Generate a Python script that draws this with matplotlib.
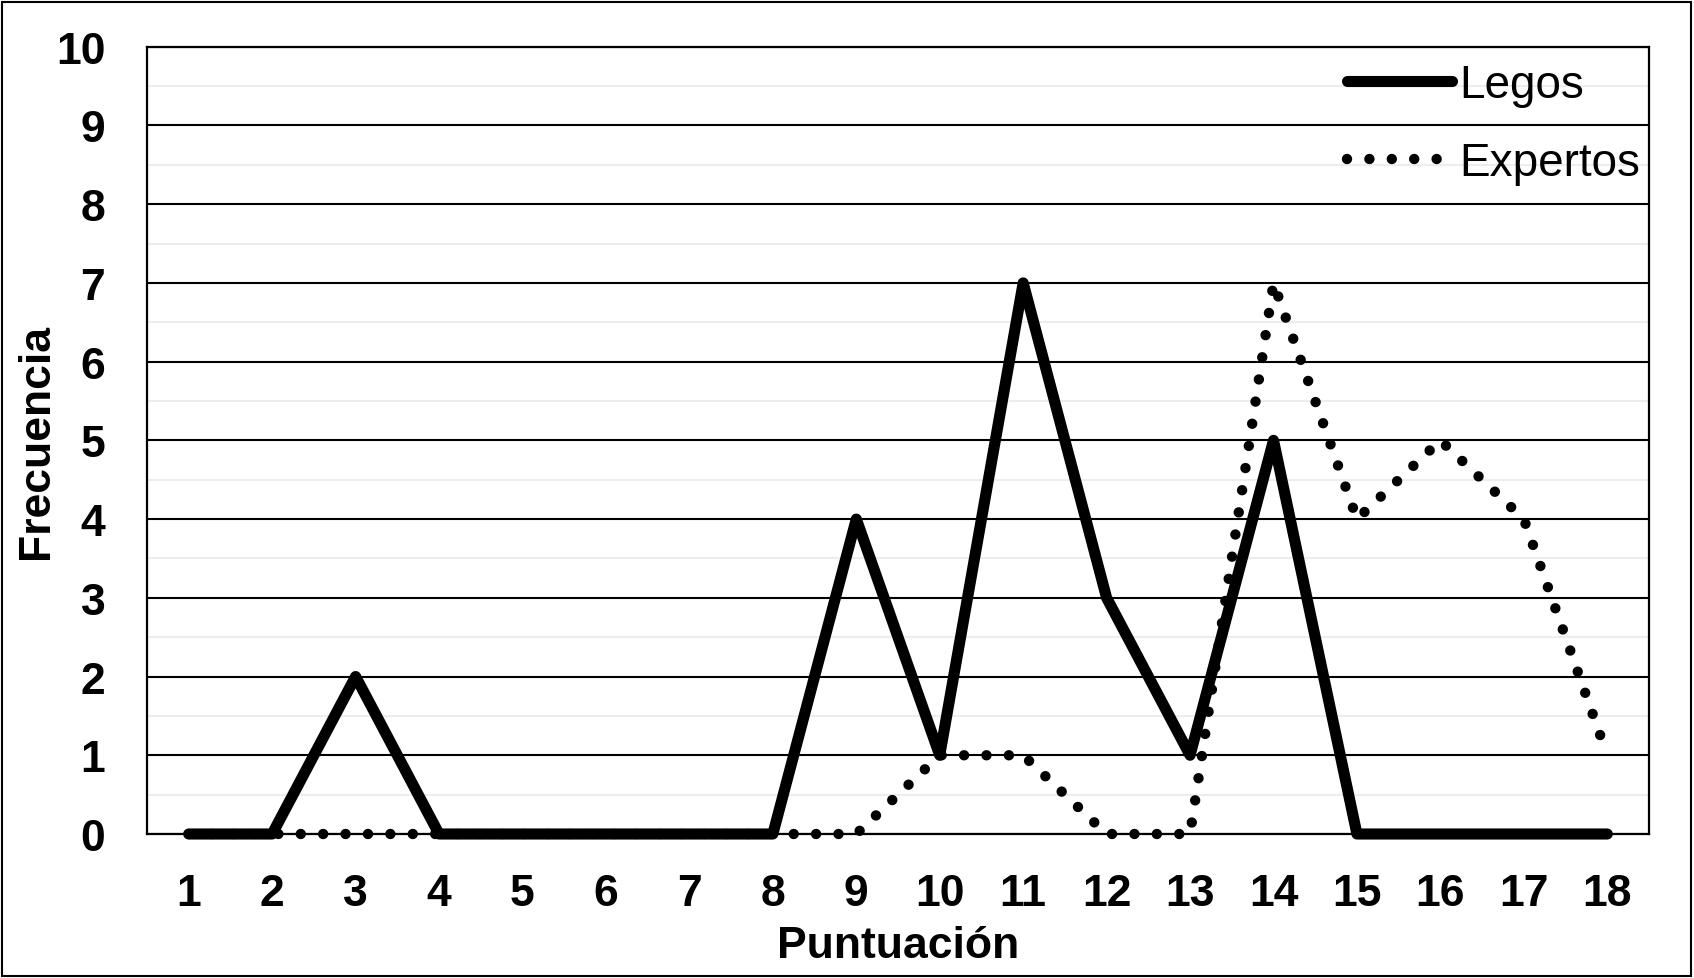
import matplotlib
matplotlib.use("Agg")
import matplotlib.pyplot as plt
from matplotlib.patches import Rectangle
import numpy as np

# Data
puntuacion = list(range(1, 19))
legos = [0, 0, 2, 0, 0, 0, 0, 0, 4, 1, 7, 3, 1, 5, 0, 0, 0, 0]
expertos = [0, 0, 0, 0, 0, 0, 0, 0, 0, 1, 1, 0, 0, 7, 4, 5, 4, 1]
series_names = ["Legos", "Expertos"]

plt.rcParams['font.family'] = ['Liberation Sans', 'DejaVu Sans']

fig = plt.figure(figsize=(16.94, 9.79), dpi=100)
ax = fig.add_axes([147 / 1694, 1 - 835 / 979, (1649 - 147) / 1694, (835 - 47.7) / 979])

ax.plot(puntuacion, legos, color='black', linewidth=8, solid_capstyle='round',
        solid_joinstyle='round', label=series_names[0], clip_on=False, zorder=3)
ax.plot(puntuacion, expertos, color='black', linewidth=7.5,
        linestyle=(0, (0.001, 2.15)), dash_capstyle='round',
        label=series_names[1], clip_on=False, zorder=4)

ax.set_xlim(0.5, 18.5)
ax.set_ylim(0, 10)
ax.set_xticks(puntuacion)
ax.set_yticks(range(0, 11))
ax.set_yticks(np.arange(0.5, 10, 1), minor=True)
ax.grid(True, which='major', axis='y', color='black', linewidth=1.5)
ax.grid(True, which='minor', axis='y', color='#ededed', linewidth=1.5)
ax.set_axisbelow(True)
for s in ax.spines.values():
    s.set_linewidth(1.6)
    s.set_color('black')

ax.tick_params(axis='both', which='both', length=0)
ax.tick_params(axis='x', pad=28)
ax.tick_params(axis='y', pad=30)
for lab in ax.get_xticklabels() + ax.get_yticklabels():
    lab.set_fontsize(32)
    lab.set_fontweight('bold')

ax.set_xlabel("Puntuación", fontsize=32, fontweight='bold', va='center')
ax.xaxis.set_label_coords(0.5, (835 - 947) / 787.3)
ax.set_ylabel("Frecuencia", fontsize=32, fontweight='bold', va='center')
ax.yaxis.set_label_coords((36 - 147) / 1502, 0.5)

ax.legend(loc='upper right', bbox_to_anchor=(1640 / 1694, 1 - 64 / 979),
          bbox_transform=fig.transFigure, frameon=False, fontsize=33,
          handlelength=2.3, handletextpad=0.15, labelspacing=0.75,
          borderpad=0, borderaxespad=0)

# outer frame
fig.patches.append(Rectangle((2 / 1694, 2 / 979), 1 - 5 / 1694, 1 - 5 / 979,
                             transform=fig.transFigure, fill=False,
                             edgecolor='black', linewidth=1.5))

fig.savefig('out.png', dpi=100)
